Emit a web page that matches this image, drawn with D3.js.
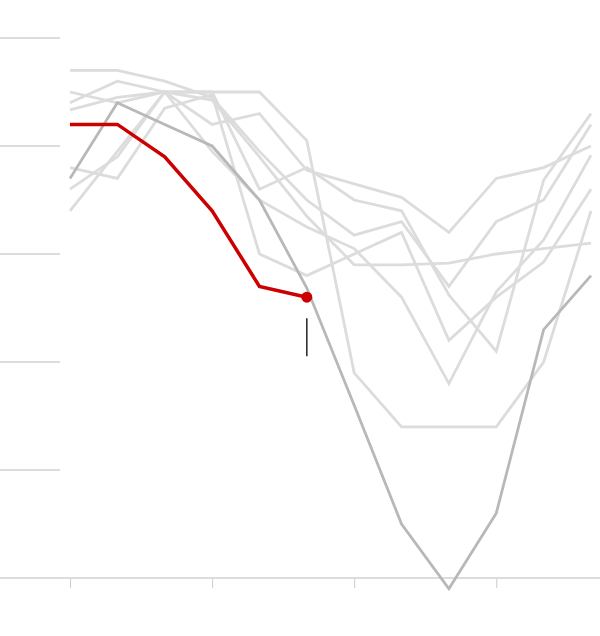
<!DOCTYPE html>
<html>
<head>
<meta charset="utf-8">
<script src="https://cdn.jsdelivr.net/npm/d3@7"></script>
<style>
  html, body { margin: 0; padding: 0; background: #fff; }
  svg { display: block; }
</style>
</head>
<body>
<div id="chart"></div>
<script>
// ---- data ----
const months = [0, 1, 2, 3, 4, 5, 6, 7, 8, 9, 10, 11];
const xTicks = [0, 3, 6, 9];
const yGrid = [20, 40, 60, 80, 100];

const pastYearA = [68, 79, 90, 90, 90, 81, 38, 28, 28, 28, 40, 68];
const pastYearB = [94, 94, 92, 89, 79, 70, 63.5, 66, 54, 66, 70, 84];
const pastYearC = [88, 92, 90, 84, 86, 75.5, 73, 70.5, 64, 74, 76, 80];
const pastYearD = [90, 88, 90, 88.5, 78, 67, 58, 58, 58.3, 60, 61, 62];
const pastYearE = [86.7, 89, 90, 90, 72, 76, 70, 68, 52.4, 42, 73.7, 86];
const pastYearF = [76, 74, 87, 89.5, 60, 56, 60, 64, 44, 52, 58.5, 72];
const pastYearG = [72, 78, 90, 79, 70, 65, 61, 52, 36, 53, 62.6, 78.3];
const highlightYear = [74, 88, 84, 80, 70, 53.7, 32, 10, -2, 12, 46, 56];
const currentYear = [84, 84, 78, 68, 54, 52];

const pastYears = [pastYearA, pastYearB, pastYearC, pastYearD, pastYearE, pastYearF, pastYearG];

// ---- layout ----
const W = 600, H = 636;
const svg = d3.select("#chart").append("svg").attr("width", W).attr("height", H);

const x = d3.scaleLinear().domain([0, 11]).range([70, 591]);
const y = d3.scaleLinear().domain([0, 100]).range([578, 38]);

// grid stubs on the left
svg.append("g").selectAll("line").data(yGrid).join("line")
  .attr("x1", 0).attr("x2", 60)
  .attr("y1", d => y(d)).attr("y2", d => y(d))
  .attr("stroke", "#dcdcdc").attr("stroke-width", 2);

// baseline axis with ticks
const xAxis = d3.axisBottom(x).tickValues(xTicks).tickSize(10).tickFormat("");
const gx = svg.append("g").attr("transform", `translate(0,${y(0)})`).call(xAxis);
gx.select(".domain").remove();
gx.selectAll(".tick line").attr("stroke", "#cccccc").attr("stroke-width", 1);
svg.append("line")
  .attr("x1", 0).attr("x2", W)
  .attr("y1", y(0)).attr("y2", y(0))
  .attr("stroke", "#dcdcdc").attr("stroke-width", 2);

const line = d3.line().x((d, i) => x(months[i])).y(d => y(d));

// past years
svg.append("g").selectAll("path").data(pastYears).join("path")
  .attr("d", d => line(d))
  .attr("fill", "none")
  .attr("stroke", "#dcdcdc")
  .attr("stroke-width", 2.8);

// highlighted past year
svg.append("path")
  .attr("d", line(highlightYear))
  .attr("fill", "none")
  .attr("stroke", "#b8b8b8")
  .attr("stroke-width", 2.8);

// current year
svg.append("path")
  .attr("d", line(currentYear))
  .attr("fill", "none")
  .attr("stroke", "#cc0000")
  .attr("stroke-width", 3.5);

const lastIdx = currentYear.length - 1;
svg.append("circle")
  .attr("cx", x(months[lastIdx]))
  .attr("cy", y(currentYear[lastIdx]))
  .attr("r", 5.5)
  .attr("fill", "#cc0000");

// annotation tick below the last point
svg.append("line")
  .attr("x1", x(months[lastIdx])).attr("x2", x(months[lastIdx]))
  .attr("y1", y(currentYear[lastIdx]) + 21)
  .attr("y2", y(currentYear[lastIdx]) + 59)
  .attr("stroke", "#222").attr("stroke-width", 1.5);
</script>
</body>
</html>
